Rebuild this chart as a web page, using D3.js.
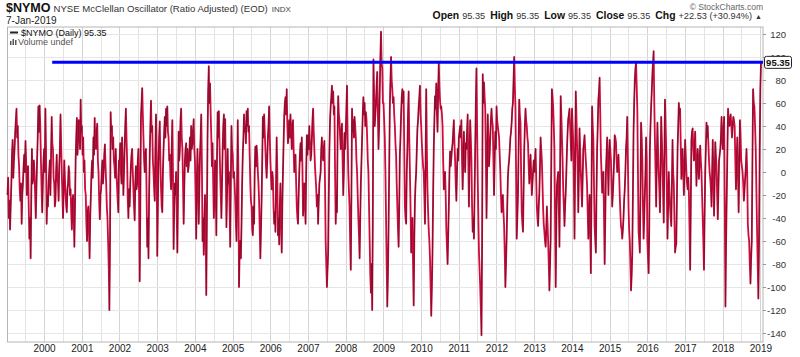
<!DOCTYPE html>
<html><head><meta charset="utf-8">
<script src="https://cdn.jsdelivr.net/npm/d3@7"></script>
<style>body{margin:0;background:#fff} svg{display:block} text{font-family:Arial,"Liberation Sans",sans-serif}</style>
</head><body><svg id="c" width="800" height="357"></svg>
<script>
// ---- data (one array per calendar year) ----
const startDate = "1999-01-12";
const endDate = "2019-01-07";
const years = d3.range(1999, 2019);
const v1999 = [-20,-5,-40,-25,-50,-30,-10,15,28,-5,10,20,35,45,55,30,40,15,5,-15,-25,-10,-45,-20,-10,5,15,0,27,10,-20,-5,5,-30,-58,-40,-75,-20,20,-10,-5,10,0,-20,-40,-15,10,30,57,35,58,40,10,-15,-35,-10,10];
const v2000 = [20,0,55,20,-45,-20,-30,-10,0,10,-20,15,48,25,20,-5,-10,-30,-25,0,15,-5,-10,-25,5,20,50,25,0,-20,-40,-15,10,-5,-20,-30,-35,-15,-10,5,0,-20,-15,-35,-50,-25,-20,-40,-65,-30,10,30,47,15,30,45,40,20,63,35];
const v2001 = [40,15,30,0,10,-15,-20,-45,-60,-35,-30,-50,-75,-40,-20,0,10,-5,30,15,47,25,20,35,42,10,0,-25,-41,-20,-15,0,10,-10,0,15,24,5,-10,-30,-40,-60,-83,-120,-60,52,35,40,20,30,10,5,-5,20,0,-12,-25,-35,10];
const v2002 = [10,25,0,-10,30,5,-20,0,20,40,55,30,10,-25,-40,-15,-30,-10,5,15,20,0,-15,-30,-42,-10,5,-15,-10,10,20,-20,-95,-30,48,60,73,50,30,10,0,15,20,-20,-65,-40,-75,-20,15,40,62,35,40,10,0,-15,-25,20,50,10];
const v2003 = [-73,-30,10,30,44,10,-15,-30,-35,0,20,35,48,30,55,40,57,35,30,10,15,-5,-15,20,45,0,-67,-30,-10,-20,0,-40,-70,-20,35,10,20,45,55,30,20,-10,-45,-15,10,20,25,5,20,0,5,15,30,10,40,20,25,35,46,20];
const v2004 = [10,-20,-58,-10,20,0,-45,-15,15,30,50,10,-60,-40,-72,-40,-20,-50,-107,-40,30,70,92,60,77,50,30,5,25,-10,-40,-15,10,-20,-55,10,52,30,53,25,0,-20,-40,-10,20,40,50,20,46,0,-48,-20,20,-10,0,-30,-65,-10,40,20];
const v2005 = [15,-5,0,-10,-25,-45,-60,-10,45,0,-100,-70,-60,-75,-45,-10,15,30,50,35,40,25,53,40,55,35,40,15,-10,-25,-30,-50,-55,-30,-45,0,22,5,23,15,0,-10,-25,-50,-75,-50,-25,10,48,30,50,35,20,5,-5,10,30,40,57,30];
const v2006 = [10,-5,-15,0,-5,-30,-45,-35,-52,-10,30,0,-55,-40,-63,-30,-10,-40,-70,-30,0,25,48,60,65,50,72,40,25,35,45,30,50,35,20,40,45,20,0,10,15,-10,-30,-40,-45,-20,0,15,25,10,30,5,-38,-20,-10,-30,-45,0,32,15];
const v2007 = [32,20,40,25,10,15,28,45,55,35,20,5,-5,-15,-30,-20,-45,-25,-10,-5,0,20,30,15,10,20,27,-10,-60,-80,-100,-85,-70,-20,20,45,57,65,75,60,70,50,57,0,-45,-20,-35,30,66,50,45,30,20,35,42,10,-20,0,34,20];
const v2008 = [34,55,75,30,0,-15,-30,-60,-85,-20,55,35,45,30,48,40,30,10,0,-20,-40,-55,-75,-40,-10,10,30,50,65,50,60,40,52,45,30,10,0,-30,-60,-90,-105,-80,-120,-40,98,70,40,50,60,75,87,50,20,40,70,100,122,95,90,60];
const v2009 = [60,45,30,0,-40,-80,-117,-90,-50,0,55,80,100,80,72,60,65,50,40,25,15,-10,-30,-50,-65,-30,15,30,50,65,72,60,70,20,-30,-40,-45,0,20,50,70,30,0,-30,-70,-50,-40,-80,-116,-60,-25,-10,0,20,38,45,57,65,75,50];
const v2010 = [40,25,15,5,0,-20,-45,10,72,20,-15,-35,-50,-60,-75,-100,-125,-100,-70,-20,20,45,66,55,77,50,35,70,95,75,62,55,57,50,40,10,-15,-5,0,-20,-50,-65,-80,-55,-30,0,18,5,12,20,25,35,45,25,10,-10,-25,0,20,10];
const v2011 = [30,35,40,30,45,10,-15,10,35,15,0,25,20,35,50,10,-30,10,45,30,10,-30,-52,-40,-58,-20,20,60,90,40,-5,-40,-70,-85,-100,-120,-142,-60,85,60,78,65,55,10,-40,0,50,30,5,15,30,45,55,45,40,10,-20,10,35,20];
const v2012 = [57,45,40,35,30,15,0,-20,-35,-25,-20,-35,-47,-70,-100,-80,-58,-30,-5,5,10,20,30,35,43,55,60,80,100,75,57,0,-58,-40,-20,20,63,50,43,0,-35,-45,-52,-15,20,40,55,45,40,30,25,5,-10,0,15,0,-20,-10,0,10];
const v2013 = [0,10,20,-5,-30,-40,-47,-30,-18,5,30,20,10,-10,-32,-45,-52,-60,-65,-50,-30,-45,-60,-80,-103,-80,-58,10,72,65,57,40,20,-40,-100,-50,-12,-5,0,-30,-65,0,66,50,30,10,-15,-30,-47,-30,-18,0,20,35,46,50,55,40,25,10];
const v2014 = [55,40,25,-10,-58,10,70,50,25,0,-35,0,38,20,0,-15,-30,-5,20,25,32,20,10,0,-12,-35,-58,-40,-20,-50,-88,-20,57,40,28,-10,-47,-60,-70,-20,20,40,63,70,82,50,15,0,-18,-10,0,-40,-80,-40,0,15,30,5,-20,10];
const v2015 = [28,20,10,-10,-30,-20,-6,10,32,30,26,10,0,5,15,0,-20,-35,-47,-50,-58,-50,-40,-25,-15,0,20,30,48,10,-30,-50,-60,-80,-103,-90,-70,-20,35,60,80,90,95,75,55,0,-52,-60,-70,-20,43,30,10,-30,-58,-40,-20,0,30,10];
const v2016 = [-60,-75,-88,-50,20,40,57,70,85,95,105,60,28,0,-30,10,43,20,0,-15,-35,0,48,30,10,-20,-44,10,63,40,20,-20,-58,-30,0,-15,-30,-40,-47,-10,28,0,-10,-40,-70,-65,-62,-20,20,40,60,50,55,25,-6,10,20,0,-20,0];
const v2017 = [28,15,0,-10,-15,-5,-18,-50,-85,-30,28,35,38,20,10,20,35,10,-12,5,20,10,-6,10,23,10,0,-20,-40,-60,-85,-40,0,20,43,30,40,25,10,0,-6,-15,-30,0,28,0,-38,-10,26,15,5,-20,-41,-15,10,15,20,30,48,30];
const v2018 = [20,35,48,-30,-117,-60,-20,20,55,45,40,45,50,40,30,40,48,45,40,10,-15,10,30,0,-35,0,45,30,10,5,0,-10,-25,-15,-5,5,20,0,-45,-55,-60,-80,-97,-75,-60,10,72,60,57,40,20,-15,-50,-80,-110,-60,20,72.82,95.35];
const yearly = [v1999,v2000,v2001,v2002,v2003,v2004,v2005,v2006,v2007,v2008,v2009,v2010,v2011,v2012,v2013,v2014,v2015,v2016,v2017,v2018];
const yTicks = [-140,-120,-100,-80,-60,-40,-20,0,20,40,60,80,100,120];
const yearLabels = d3.range(2000, 2020);
const lastClose = 95.35;
const hLineValue = 95.35;
const hLineStart = "2000-03-20";
const quote = [["Open","95.35"],["High","95.35"],["Low","95.35"],["Close","95.35"],["Chg","+22.53 (+30.94%)"]];

// ---- build dated points: values spread evenly within their calendar year ----
const t0 = new Date(startDate + "T00:00:00"), t1 = new Date(endDate + "T00:00:00");
const pts = [];
yearly.forEach((arr, k) => {
  const yr = years[k];
  const a = k === 0 ? t0 : new Date(yr, 0, 2);
  const last = k === yearly.length - 1;
  const b = last ? t1 : new Date(yr + 1, 0, 2);
  arr.forEach((v, i) => {
    const f = last ? i / (arr.length - 1) : i / arr.length;
    pts.push({ d: new Date(+a + (b - a) * f), v });
  });
});

// ---- layout ----
const svg = d3.select("#c");
const L = 7.5, R = 763, T = 27, B = 342;
const x = d3.scaleTime().domain([t0, t1]).range([L, 761]);
const y = d3.scaleLinear().domain([-140, 120]).range([333, 34]);

// grid
const g = svg.append("g");
const halfYears = d3.timeMonth.every(6).range(new Date(1999,6,1), new Date(2019,0,2));
g.selectAll("line.v").data(halfYears).join("line")
  .attr("x1", d => Math.round(x(d)) + 0.5).attr("x2", d => Math.round(x(d)) + 0.5)
  .attr("y1", T).attr("y2", B)
  .attr("stroke", d => d.getMonth() === 0 ? "#d4d4d4" : "#e4e4e4").attr("stroke-width", 1);
g.selectAll("line.h").data(yTicks).join("line")
  .attr("x1", L).attr("x2", R)
  .attr("y1", d => Math.round(y(d)) + 0.5).attr("y2", d => Math.round(y(d)) + 0.5)
  .attr("stroke", "#e6e6e6");

// frame
svg.append("rect").attr("x", L).attr("y", T).attr("width", R - L).attr("height", B - T)
  .attr("fill", "none").attr("stroke", "#b5b5b5");

// series
const line = d3.line().x(p => x(p.d)).y(p => y(p.v));
svg.append("path").datum(pts).attr("d", line).attr("fill", "none")
  .attr("stroke", "#cf0a3c").attr("stroke-width", 1.8).attr("stroke-linejoin", "round");
const ups = [];
for (let i = 1; i < pts.length; i++) if (pts[i].v > pts[i-1].v) ups.push(i);
svg.append("g").selectAll("line").data(ups).join("line")
  .attr("x1", i => x(pts[i-1].d)).attr("y1", i => y(pts[i-1].v))
  .attr("x2", i => x(pts[i].d)).attr("y2", i => y(pts[i].v))
  .attr("stroke", "#2a1a1e").attr("stroke-width", 0.75).attr("stroke-opacity", 0.7);

// horizontal annotation line
svg.append("line").attr("x1", x(new Date(hLineStart + "T00:00:00"))).attr("x2", R)
  .attr("y1", y(hLineValue)).attr("y2", y(hLineValue))
  .attr("stroke", "#0000ff").attr("stroke-width", 3);

// y axis (right)
const yAxis = d3.axisRight(y).tickValues(yTicks).tickSize(3).tickPadding(8).tickFormat(d => String(d));
const ya = svg.append("g").attr("transform", `translate(${R},0)`).call(yAxis);
ya.select(".domain").remove();
ya.selectAll(".tick line").attr("stroke", "#999");
ya.selectAll("text").attr("text-anchor", "end").attr("x", 23).attr("font-size", 9.5).attr("fill", "#333")
  .attr("font-family", "Arial, Liberation Sans, sans-serif");

// last value tag
const tagY = y(lastClose);
const tag = svg.append("g").attr("transform", `translate(764,${tagY})`);
tag.append("rect").attr("x", 0.5).attr("y", -6).attr("width", 27).attr("height", 12).attr("rx", 2)
  .attr("fill", "#fff").attr("stroke", "#222");
tag.append("text").attr("x", 14).attr("y", 3.5).attr("text-anchor", "middle").attr("font-size", 9.5)
  .attr("font-weight", "bold").attr("fill", "#111").text(lastClose.toFixed(2));

// x axis
const xAxis = d3.axisBottom(x).tickValues(yearLabels.map(yy => new Date(yy, 0, 1)))
  .tickSize(0).tickPadding(3).tickFormat(d3.timeFormat("%Y"));
const xa = svg.append("g").attr("transform", `translate(0,${B})`).call(xAxis);
xa.select(".domain").remove();
xa.selectAll("text").attr("font-size", 10).attr("fill", "#222")
  .attr("font-family", "Arial, Liberation Sans, sans-serif");

// header
const h = svg.append("text").attr("x", 6).attr("y", 12);
h.append("tspan").attr("font-weight", "bold").attr("font-size", 12.5).attr("fill", "#111").text("$NYMO");
h.append("tspan").attr("dx", 3).attr("font-size", 9.6).attr("fill", "#333").text("NYSE McClellan Oscillator (Ratio Adjusted) (EOD)");
h.append("tspan").attr("dx", 4).attr("font-size", 8).attr("fill", "#444").text("INDX");
svg.append("text").attr("x", 6).attr("y", 24).attr("font-size", 10).attr("fill", "#222").text("7-Jan-2019");

svg.append("text").attr("x", R).attr("y", 9.5).attr("text-anchor", "end").attr("font-size", 8.5)
  .attr("fill", "#666").text("© StockCharts.com");
const q = svg.append("text").attr("x", R - 1).attr("y", 19).attr("text-anchor", "end");
quote.forEach(([k, v], i) => {
  q.append("tspan").attr("dx", i ? 5 : 0).attr("font-weight", "bold").attr("font-size", 10.4).attr("fill", "#111").text(k);
  q.append("tspan").attr("dx", 3).attr("font-size", 9.2).attr("fill", "#333").text(v);
});
q.append("tspan").attr("dx", 3).attr("font-size", 7).attr("fill", "#333").text("▲");

// legend
svg.append("line").attr("x1", 10).attr("x2", 18).attr("y1", 32.5).attr("y2", 32.5).attr("stroke", "#222").attr("stroke-width", 2);
svg.append("text").attr("x", 21).attr("y", 36).attr("font-size", 9).attr("font-family", "DejaVu Sans, sans-serif")
  .attr("fill", "#111").text("$NYMO (Daily) 95.35");
const vi = svg.append("g").attr("fill", "#555");
[[10,41,1.5,4],[12.5,39,1.5,6],[15,40,1.5,5]].forEach(([a,b,w,hh]) => vi.append("rect").attr("x", a).attr("y", b).attr("width", w).attr("height", hh));
svg.append("text").attr("x", 18).attr("y", 45).attr("font-size", 9).attr("fill", "#555").text("Volume undef");
</script></body></html>
